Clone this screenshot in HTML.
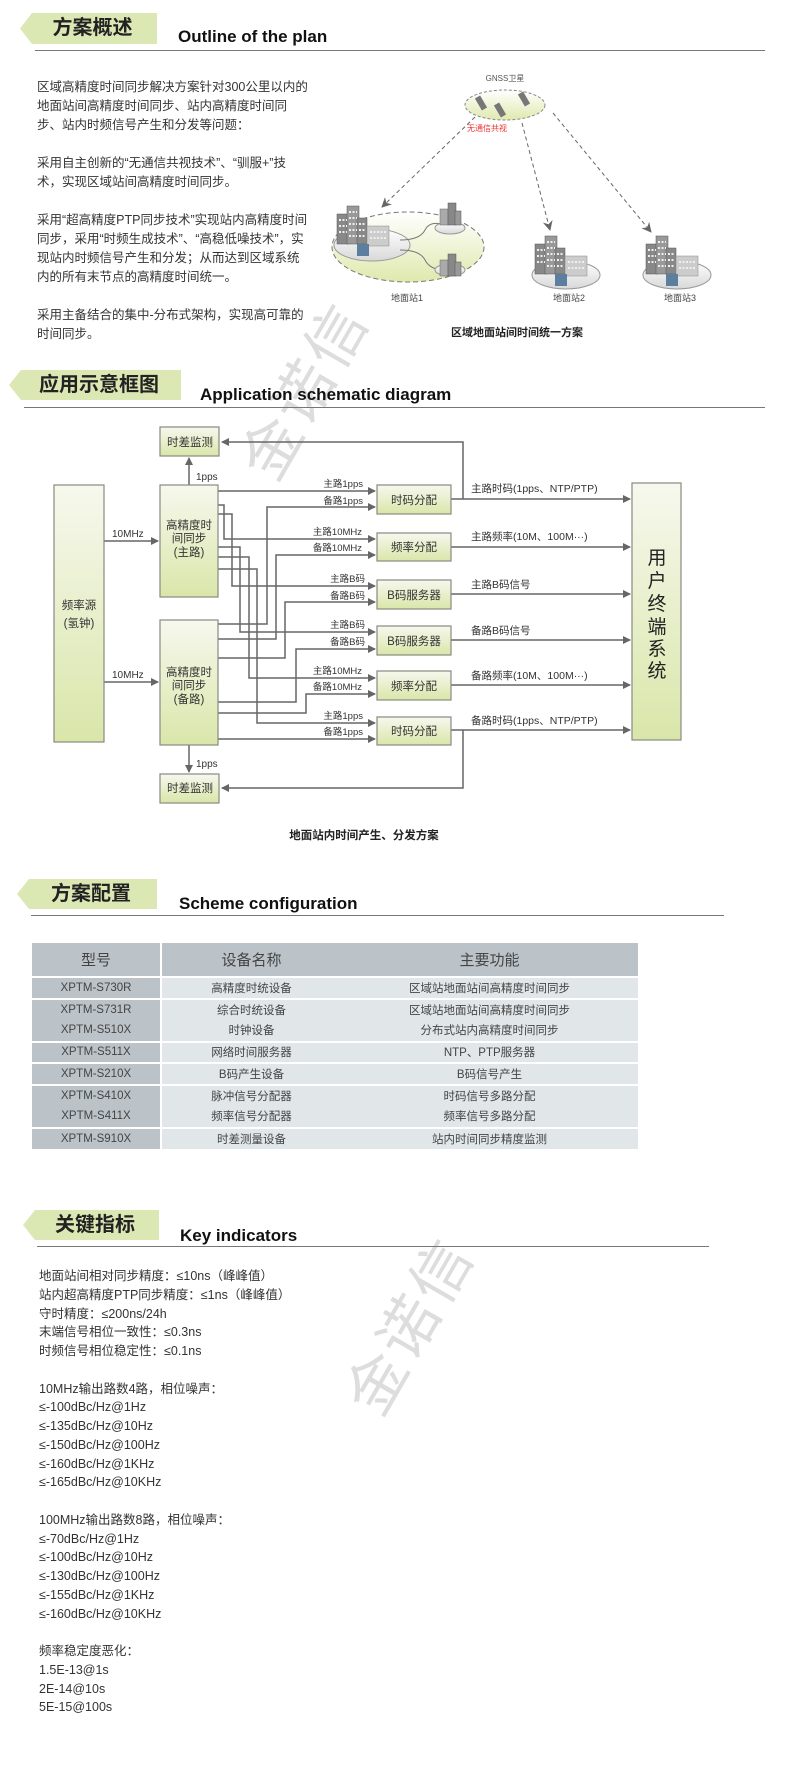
<!DOCTYPE html>
<html><head><meta charset="utf-8">
<style>
*{margin:0;padding:0;box-sizing:border-box}
body{width:804px;height:1770px;background:#fff;position:relative;overflow:hidden;font-family:"Liberation Sans","Noto Sans CJK SC",sans-serif;color:#333}
.tag{position:absolute;background:#dce8b4;clip-path:polygon(12px 0,100% 0,100% 100%,12px 100%,0 50%);font-weight:bold;font-size:20px;color:#222;text-align:center;padding-left:8px}
.en{position:absolute;font-weight:bold;font-size:17px;color:#111}
.hr{position:absolute;height:1px;background:#777}
.p{position:absolute;font-size:12.5px;line-height:19px;color:#333}
.wm{position:absolute;font-size:60px;color:#ddd;transform:rotate(-60deg);white-space:nowrap;letter-spacing:4px}
table{position:absolute;left:32px;top:943px;width:606px;border-collapse:collapse;font-size:11.5px;color:#444}
td{text-align:center;height:21.5px;padding:0}
td.c1{background:#bcc3c8;width:129px}
td.c2,td.c3{background:#e1e7e8}
td.c2{width:180px}
tr.h td{height:34px;font-size:15px;background:#bcc3c8;color:#444}
tr.h td.c1{border-right:2px solid #fff}
td.c1{border-right:2px solid #fff}
tr.s td{border-top:2px solid #fff}
.ki{position:absolute;left:39px;top:1267px;font-size:12.5px;line-height:18.75px;color:#333}
</style></head><body>

<div class="wm" style="left:205px;top:345px">金诺信</div>
<div class="wm" style="left:310px;top:1280px">金诺信</div>

<!-- Section 1 -->
<div class="tag" style="left:20px;top:13px;width:137px;height:31px;line-height:31px">方案概述</div>
<div class="en" style="left:178px;top:27px">Outline of the plan</div>
<div class="hr" style="left:35px;top:50px;width:730px"></div>
<div class="p" style="left:37px;top:78px;width:272px">区域高精度时间同步解决方案针对300公里以内的地面站间高精度时间同步、站内高精度时间同步、站内时频信号产生和分发等问题：<br><br style="line-height:12px">采用自主创新的“无通信共视技术”、“驯服+”技术，实现区域站间高精度时间同步。<br><br style="line-height:12px">采用“超高精度PTP同步技术”实现站内高精度时间同步，采用“时频生成技术”、“高稳低噪技术”，实现站内时频信号产生和分发；从而达到区域系统内的所有末节点的高精度时间统一。<br><br style="line-height:12px">采用主备结合的集中-分布式架构，实现高可靠的时间同步。</div>

<!-- Section 2 -->
<div class="tag" style="left:9px;top:370px;width:172px;height:30px;line-height:30px">应用示意框图</div>
<div class="en" style="left:200px;top:385px">Application schematic diagram</div>
<div class="hr" style="left:24px;top:407px;width:741px"></div>

<!-- Section 3 -->
<div class="tag" style="left:17px;top:879px;width:140px;height:30px;line-height:30px">方案配置</div>
<div class="en" style="left:179px;top:894px">Scheme configuration</div>
<div class="hr" style="left:31px;top:915px;width:693px"></div>
<table>
<tr class="h"><td class="c1">型号</td><td class="c2">设备名称</td><td class="c3">主要功能</td></tr>
<tr class="s"><td class="c1">XPTM-S730R</td><td class="c2">高精度时统设备</td><td class="c3">区域站地面站间高精度时间同步</td></tr>
<tr class="s"><td class="c1">XPTM-S731R</td><td class="c2">综合时统设备</td><td class="c3">区域站地面站间高精度时间同步</td></tr>
<tr><td class="c1">XPTM-S510X</td><td class="c2">时钟设备</td><td class="c3">分布式站内高精度时间同步</td></tr>
<tr class="s"><td class="c1">XPTM-S511X</td><td class="c2">网络时间服务器</td><td class="c3">NTP、PTP服务器</td></tr>
<tr class="s"><td class="c1">XPTM-S210X</td><td class="c2">B码产生设备</td><td class="c3">B码信号产生</td></tr>
<tr class="s"><td class="c1">XPTM-S410X</td><td class="c2">脉冲信号分配器</td><td class="c3">时码信号多路分配</td></tr>
<tr><td class="c1">XPTM-S411X</td><td class="c2">频率信号分配器</td><td class="c3">频率信号多路分配</td></tr>
<tr class="s"><td class="c1">XPTM-S910X</td><td class="c2">时差测量设备</td><td class="c3">站内时间同步精度监测</td></tr>
</table>

<!-- Section 4 -->
<div class="tag" style="left:23px;top:1210px;width:136px;height:30px;line-height:30px">关键指标</div>
<div class="en" style="left:180px;top:1226px">Key indicators</div>
<div class="hr" style="left:37px;top:1246px;width:672px"></div>
<div class="ki">地面站间相对同步精度：≤10ns（峰峰值）<br>站内超高精度PTP同步精度：≤1ns（峰峰值）<br>守时精度：≤200ns/24h<br>末端信号相位一致性：≤0.3ns<br>时频信号相位稳定性：≤0.1ns<br><br>10MHz输出路数4路，相位噪声：<br>≤-100dBc/Hz@1Hz<br>≤-135dBc/Hz@10Hz<br>≤-150dBc/Hz@100Hz<br>≤-160dBc/Hz@1KHz<br>≤-165dBc/Hz@10KHz<br><br>100MHz输出路数8路，相位噪声：<br>≤-70dBc/Hz@1Hz<br>≤-100dBc/Hz@10Hz<br>≤-130dBc/Hz@100Hz<br>≤-155dBc/Hz@1KHz<br>≤-160dBc/Hz@10KHz<br><br>频率稳定度恶化：<br>1.5E-13@1s<br>2E-14@10s<br>5E-15@100s</div>

<svg width="804" height="1770" style="position:absolute;left:0;top:0" xmlns="http://www.w3.org/2000/svg" font-family="Liberation Sans, Noto Sans CJK SC, sans-serif">
<defs>
<linearGradient id="bx" x1="0" y1="0" x2="0" y2="1"><stop offset="0" stop-color="#f7f8ee"/><stop offset="1" stop-color="#d9e6a9"/></linearGradient>
<linearGradient id="el" x1="0" y1="0" x2="0" y2="1"><stop offset="0" stop-color="#fff"/><stop offset="1" stop-color="#dfe9ad"/></linearGradient>
<linearGradient id="gr" x1="0" y1="0" x2="0" y2="1"><stop offset="0" stop-color="#fff"/><stop offset="1" stop-color="#d8d8d8"/></linearGradient>
<marker id="ar" markerWidth="8" markerHeight="8" refX="7" refY="4" orient="auto" markerUnits="userSpaceOnUse"><path d="M0,0 L8,4 L0,8 z" fill="#666"/></marker>
<marker id="ad" markerWidth="10" markerHeight="10" refX="9" refY="5" orient="auto" markerUnits="userSpaceOnUse"><path d="M0,0 L10,5 L0,10 L3,5 z" fill="#666"/></marker>
<g id="bld">
<rect x="0" y="8" width="12" height="30" fill="#888" stroke="#555" stroke-width=".5"/>
<rect x="10" y="0" width="12" height="38" fill="#999" stroke="#555" stroke-width=".5"/>
<rect x="20" y="12" width="10" height="26" fill="#888" stroke="#555" stroke-width=".5"/>
<rect x="30" y="20" width="22" height="20" fill="#ccc" stroke="#888" stroke-width=".5"/>
<path d="M2,14h8M2,20h8M2,26h8M12,6h8M12,12h8M12,18h8M12,24h8M12,30h8M22,18h6M22,24h6M22,30h6M33,26h16M33,32h16" stroke="#eee" stroke-width="2" stroke-dasharray="2 1.5"/>
<rect x="20" y="38" width="12" height="12" fill="#5c7f9f"/>
</g>
<g id="sb">
<rect x="0" y="6" width="8" height="16" fill="#aaa" stroke="#666" stroke-width=".5"/>
<rect x="8" y="0" width="8" height="22" fill="#888" stroke="#555" stroke-width=".5"/>
<rect x="15" y="8" width="6" height="14" fill="#999" stroke="#555" stroke-width=".5"/>
</g>
</defs>

<text x="505" y="81" font-size="8" fill="#555" text-anchor="middle">GNSS卫星</text>
<ellipse cx="505" cy="105" rx="40" ry="15" fill="url(#el)" stroke="#888" stroke-dasharray="3 2"/>
<g fill="#777"><rect x="478" y="96" width="6" height="14" transform="rotate(-30 481 103)"/><rect x="497" y="103" width="6" height="14" transform="rotate(-30 500 110)"/><rect x="521" y="92" width="6" height="14" transform="rotate(-30 524 99)"/></g>
<text x="487" y="131" font-size="8" fill="#e33" text-anchor="middle">无通信共视</text>
<g stroke="#666" stroke-dasharray="4 3" fill="none">
<line x1="475" y1="117" x2="382" y2="207" marker-end="url(#ad)"/>
<line x1="522" y1="123" x2="550" y2="230" marker-end="url(#ad)"/>
<line x1="553" y1="113" x2="651" y2="232" marker-end="url(#ad)"/>
</g>
<ellipse cx="408" cy="247" rx="76" ry="35" fill="url(#el)" stroke="#777" stroke-dasharray="5 3"/>
<ellipse cx="372" cy="245" rx="38" ry="16" fill="url(#gr)" stroke="#999"/>
<path d="M400,240 q20,0 25,-10 t20,-5 M400,250 q20,0 25,10 t20,10" stroke="#777" fill="none"/>
<ellipse cx="450" cy="228" rx="15" ry="6" fill="url(#gr)" stroke="#999"/>
<ellipse cx="450" cy="270" rx="15" ry="6" fill="url(#gr)" stroke="#999"/>
<use href="#bld" x="337" y="206"/>
<use href="#sb" x="440" y="203"/>
<use href="#sb" x="440" y="254"/>
<text x="407" y="301" font-size="9" fill="#444" text-anchor="middle">地面站1</text>
<ellipse cx="566" cy="275" rx="34" ry="14" fill="url(#gr)" stroke="#999"/>
<use href="#bld" x="535" y="236"/>
<text x="569" y="301" font-size="9" fill="#444" text-anchor="middle">地面站2</text>
<ellipse cx="677" cy="275" rx="34" ry="14" fill="url(#gr)" stroke="#999"/>
<use href="#bld" x="646" y="236"/>
<text x="680" y="301" font-size="9" fill="#444" text-anchor="middle">地面站3</text>
<text x="517" y="336" font-size="11" font-weight="bold" fill="#222" text-anchor="middle">区域地面站间时间统一方案</text>

<g stroke="#666" stroke-width="1.5" fill="none">
<line x1="104" y1="541" x2="158" y2="541" marker-end="url(#ar)"/>
<line x1="104" y1="682" x2="158" y2="682" marker-end="url(#ar)"/>
<line x1="189" y1="485" x2="189" y2="458" marker-end="url(#ar)"/>
<line x1="189" y1="745" x2="189" y2="772" marker-end="url(#ar)"/>
<line x1="218" y1="491" x2="375" y2="491" marker-end="url(#ar)"/>
<polyline points="218,505 224,505 224,539 375,539" marker-end="url(#ar)"/>
<polyline points="218,514 232,514 232,586 375,586" marker-end="url(#ar)"/>
<polyline points="218,547 240,547 240,632 375,632" marker-end="url(#ar)"/>
<polyline points="218,557 249,557 249,678 375,678" marker-end="url(#ar)"/>
<polyline points="218,569 257,569 257,723 375,723" marker-end="url(#ar)"/>
<polyline points="218,624 267,624 267,507 375,507" marker-end="url(#ar)"/>
<polyline points="218,639 276,639 276,555 375,555" marker-end="url(#ar)"/>
<polyline points="218,658 285,658 285,602 375,602" marker-end="url(#ar)"/>
<polyline points="218,702 296,702 296,649 375,649" marker-end="url(#ar)"/>
<polyline points="218,713 306,713 306,694 375,694" marker-end="url(#ar)"/>
<line x1="218" y1="739" x2="375" y2="739" marker-end="url(#ar)"/>
<line x1="451" y1="499" x2="630" y2="499" marker-end="url(#ar)"/>
<line x1="451" y1="547" x2="630" y2="547" marker-end="url(#ar)"/>
<line x1="451" y1="594" x2="630" y2="594" marker-end="url(#ar)"/>
<line x1="451" y1="640" x2="630" y2="640" marker-end="url(#ar)"/>
<line x1="451" y1="685" x2="630" y2="685" marker-end="url(#ar)"/>
<line x1="451" y1="730" x2="630" y2="730" marker-end="url(#ar)"/>
<polyline points="463,499 463,442 222,442" marker-end="url(#ar)"/>
<polyline points="463,730 463,788 222,788" marker-end="url(#ar)"/>
</g>
<g fill="url(#bx)" stroke="#8a8a80" stroke-width="1.2">
<rect x="160" y="427" width="59" height="29"/>
<rect x="54" y="485" width="50" height="257"/>
<rect x="160" y="485" width="58" height="112"/>
<rect x="160" y="620" width="58" height="125"/>
<rect x="160" y="774" width="59" height="29"/>
<rect x="377" y="485" width="74" height="29"/>
<rect x="377" y="533" width="74" height="28"/>
<rect x="377" y="580" width="74" height="29"/>
<rect x="377" y="626" width="74" height="29"/>
<rect x="377" y="671" width="74" height="29"/>
<rect x="377" y="717" width="74" height="28"/>
<rect x="632" y="483" width="49" height="257"/>
</g>
<g font-size="11.5" fill="#333" text-anchor="middle">
<text x="190" y="446">时差监测</text>
<text x="190" y="792">时差监测</text>
<text x="79" y="609">频率源</text>
<text x="79" y="627">(氢钟)</text>
<text x="189" y="529">高精度时</text><text x="189" y="542">间同步</text><text x="189" y="556">(主路)</text>
<text x="189" y="676">高精度时</text><text x="189" y="689">间同步</text><text x="189" y="703">(备路)</text>
<text x="414" y="504">时码分配</text>
<text x="414" y="551">频率分配</text>
<text x="414" y="599">B码服务器</text>
<text x="414" y="645">B码服务器</text>
<text x="414" y="690">频率分配</text>
<text x="414" y="735">时码分配</text>
</g>
<g font-size="10" fill="#333">
<text x="112" y="537">10MHz</text>
<text x="112" y="678">10MHz</text>
<text x="196" y="480">1pps</text>
<text x="196" y="767">1pps</text>
</g>
<g font-size="9.5" fill="#333" text-anchor="end">
<text x="363" y="487">主路1pps</text><text x="363" y="504">备路1pps</text>
<text x="362" y="535">主路10MHz</text><text x="362" y="551">备路10MHz</text>
<text x="365" y="582">主路B码</text><text x="365" y="599">备路B码</text>
<text x="365" y="628">主路B码</text><text x="365" y="645">备路B码</text>
<text x="362" y="674">主路10MHz</text><text x="362" y="690">备路10MHz</text>
<text x="363" y="719">主路1pps</text><text x="363" y="735">备路1pps</text>
</g>
<g font-size="10.5" fill="#333">
<text x="471" y="492">主路时码(1pps、NTP/PTP)</text>
<text x="471" y="540">主路频率(10M、100M···)</text>
<text x="471" y="588">主路B码信号</text>
<text x="471" y="634">备路B码信号</text>
<text x="471" y="679">备路频率(10M、100M···)</text>
<text x="471" y="724">备路时码(1pps、NTP/PTP)</text>
</g>
<g font-size="19" fill="#222" text-anchor="middle">
<text x="657" y="564">用</text><text x="657" y="587">户</text><text x="657" y="610">终</text><text x="657" y="633">端</text><text x="657" y="655">系</text><text x="657" y="677">统</text>
</g>
<text x="364" y="839" font-size="11.5" font-weight="bold" fill="#222" text-anchor="middle">地面站内时间产生、分发方案</text>
</svg>
</body></html>
